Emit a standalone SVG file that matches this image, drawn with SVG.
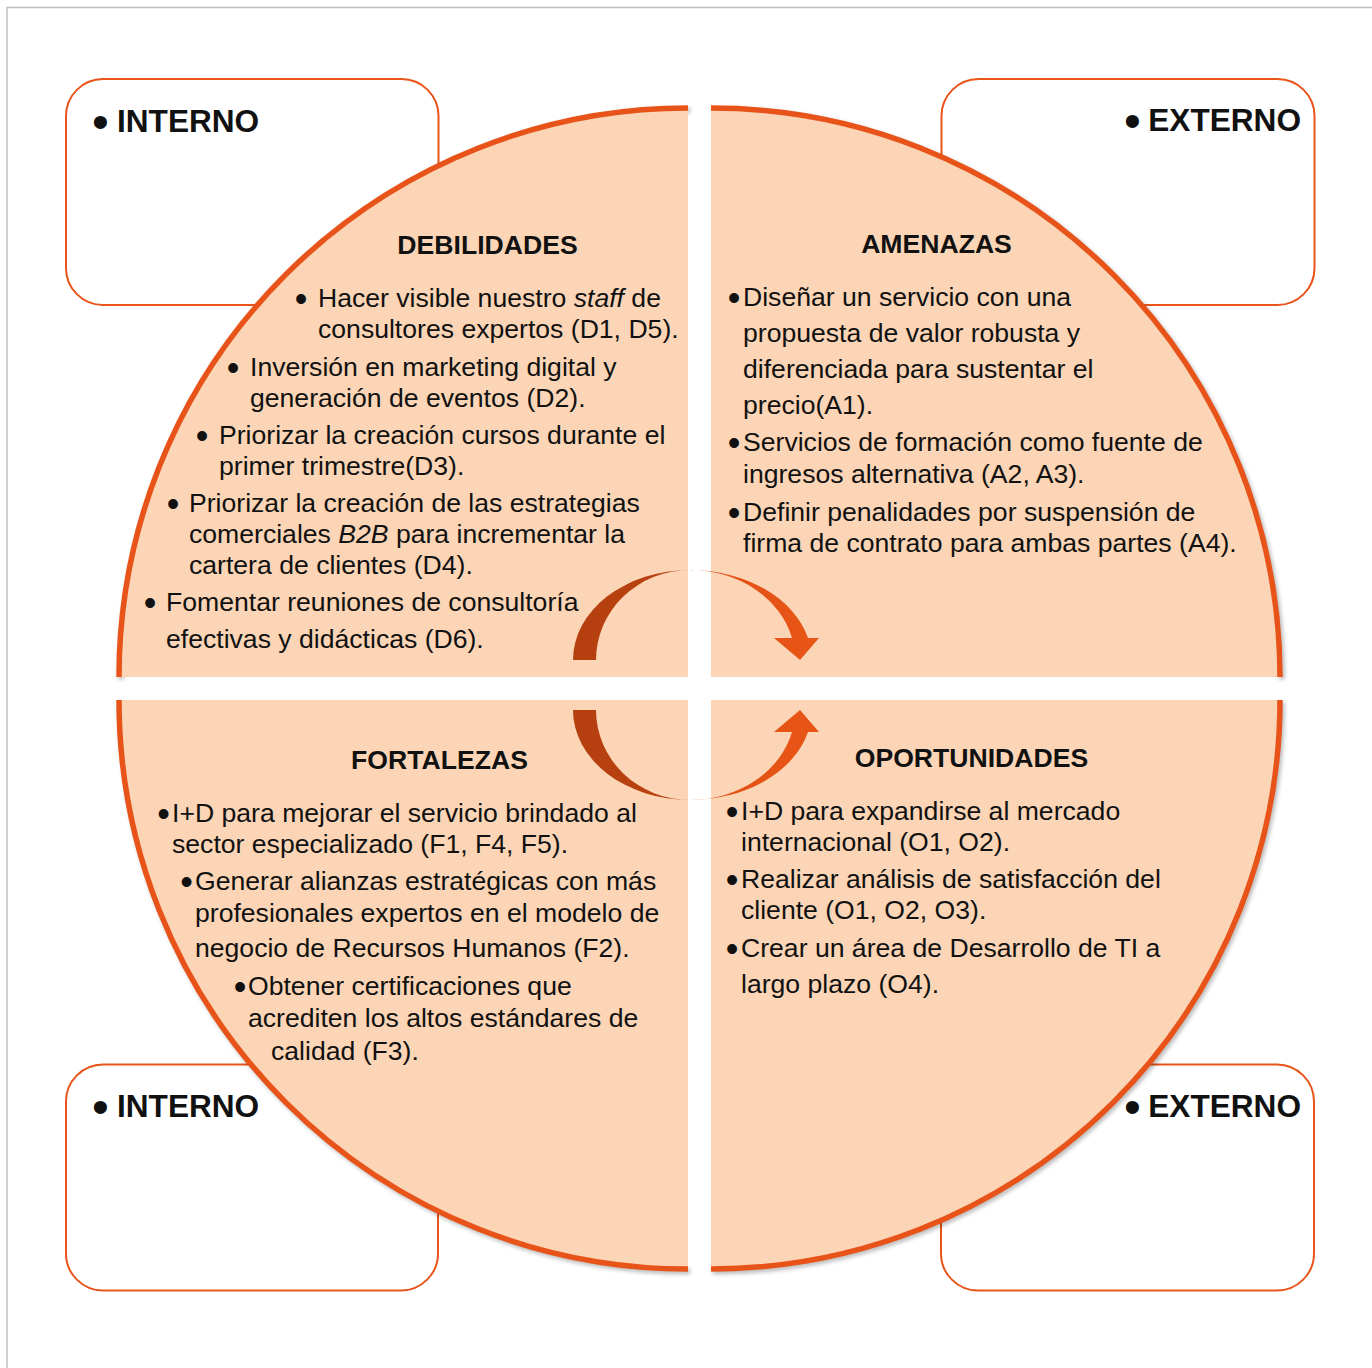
<svg xmlns="http://www.w3.org/2000/svg" width="1372" height="1368" viewBox="0 0 1372 1368">
<defs>
<style>
.box{fill:#fff;stroke:#E8541A;stroke-width:2}
.lbl{font-family:"Liberation Sans",Arial,sans-serif;font-weight:bold;font-size:31.6px;fill:#111}
.lb{font-family:"Liberation Sans",Arial,sans-serif;font-size:48px;fill:#111;text-anchor:middle}
.pie{fill:#FBD5B5;stroke:none}
.rim{fill:none;stroke:#E8531A;stroke-width:5.5}
.rimsh{fill:none;stroke:#000;stroke-opacity:0.3;stroke-width:5}
.hd{font-family:"Liberation Sans",Arial,sans-serif;font-weight:bold;font-size:26.6px;fill:#111;text-anchor:middle}
.tx{font-family:"Liberation Sans",Arial,sans-serif;font-size:26.6px;fill:#111}
.bl{font-family:"Liberation Sans",Arial,sans-serif;font-size:36px;fill:#111;text-anchor:middle}
.it{font-style:italic}
</style>
<filter id="sh" x="-10%" y="-10%" width="120%" height="120%">
<feGaussianBlur stdDeviation="2"/>
</filter>
<linearGradient id="ag" gradientUnits="userSpaceOnUse" x1="573" y1="0" x2="819" y2="0">
<stop offset="0" stop-color="#B53F0F"/>
<stop offset="0.44" stop-color="#BA4210"/>
<stop offset="0.52" stop-color="#E25013"/>
<stop offset="1" stop-color="#E85517"/>
</linearGradient>
</defs>
<rect width="1372" height="1368" fill="#fff"/>
<path d="M7,1368 V7.5 H1372" fill="none" stroke="#C0C0C0" stroke-width="1.5"/>

<g id="box-interno-top">
<rect class="box" x="66" y="79" width="372.5" height="226" rx="37"/>
<text class="lb" x="100.5" y="138">•</text>
<text class="lbl" x="117" y="132">INTERNO</text>
</g>
<g id="box-externo-top">
<rect class="box" x="941.5" y="79" width="373" height="226" rx="37"/>
<text class="lb" x="1132.5" y="137">•</text>
<text class="lbl" x="1301" y="131" text-anchor="end">EXTERNO</text>
</g>
<g id="box-interno-bottom">
<rect class="box" x="66" y="1064.5" width="372" height="226" rx="37"/>
<text class="lb" x="100.5" y="1123">•</text>
<text class="lbl" x="117" y="1117">INTERNO</text>
</g>
<g id="box-externo-bottom">
<rect class="box" x="941" y="1064.5" width="373" height="226" rx="37"/>
<text class="lb" x="1132.5" y="1123">•</text>
<text class="lbl" x="1301" y="1117" text-anchor="end">EXTERNO</text>
</g>

<g id="rim-shadow" filter="url(#sh)" transform="translate(2,2.5)">
<path class="rimsh" d="M119,677 A569,569 0 0 1 688,108"/>
<path class="rimsh" d="M711,108 A569,569 0 0 1 1280,677"/>
<path class="rimsh" d="M1280,700 A569,569 0 0 1 711,1269"/>
<path class="rimsh" d="M688,1269 A569,569 0 0 1 119,700"/>
</g>

<g id="debilidades">
<path class="pie" d="M688,677 H119 A569,569 0 0 1 688,108 Z"/>
<path class="rim" d="M119,677 A569,569 0 0 1 688,108"/>
<text class="hd" x="487.5" y="254">DEBILIDADES</text>
<text class="bl" x="301" y="311">•</text>
<text class="tx" x="318" y="307">Hacer visible nuestro <tspan class="it">staff</tspan> de</text>
<text class="tx" x="318" y="338">consultores expertos (D1, D5).</text>
<text class="bl" x="233" y="380">•</text>
<text class="tx" x="250" y="376">Inversión en marketing digital y</text>
<text class="tx" x="250" y="407">generación de eventos (D2).</text>
<text class="bl" x="202" y="448">•</text>
<text class="tx" x="219" y="444">Priorizar la creación cursos durante el</text>
<text class="tx" x="219" y="475">primer trimestre(D3).</text>
<text class="bl" x="173" y="516">•</text>
<text class="tx" x="189" y="512">Priorizar la creación de las estrategias</text>
<text class="tx" x="189" y="543">comerciales <tspan class="it">B2B</tspan> para incrementar la</text>
<text class="tx" x="189" y="574">cartera de clientes (D4).</text>
<text class="bl" x="150" y="615">•</text>
<text class="tx" x="166" y="611">Fomentar reuniones de consultoría</text>
<text class="tx" x="166" y="648">efectivas y didácticas (D6).</text>
</g>

<g id="amenazas">
<path class="pie" d="M711,677 V108 A569,569 0 0 1 1280,677 Z"/>
<path class="rim" d="M711,108 A569,569 0 0 1 1280,677"/>
<text class="hd" x="936.5" y="253">AMENAZAS</text>
<text class="bl" x="734" y="310">•</text>
<text class="tx" x="743" y="306">Diseñar un servicio con una</text>
<text class="tx" x="743" y="342">propuesta de valor robusta y</text>
<text class="tx" x="743" y="378">diferenciada para sustentar el</text>
<text class="tx" x="743" y="414">precio(A1).</text>
<text class="bl" x="734" y="455">•</text>
<text class="tx" x="743" y="451">Servicios de formación como fuente de</text>
<text class="tx" x="743" y="483">ingresos alternativa (A2, A3).</text>
<text class="bl" x="734" y="525">•</text>
<text class="tx" x="743" y="521">Definir penalidades por suspensión de</text>
<text class="tx" x="743" y="552">firma de contrato para ambas partes (A4).</text>
</g>

<g id="fortalezas">
<path class="pie" d="M688,700 V1269 A569,569 0 0 1 119,700 Z"/>
<path class="rim" d="M688,1269 A569,569 0 0 1 119,700"/>
<text class="hd" x="439.5" y="769">FORTALEZAS</text>
<text class="bl" x="163.5" y="826">•</text>
<text class="tx" x="172" y="822">I+D para mejorar el servicio brindado al</text>
<text class="tx" x="172" y="853">sector especializado (F1, F4, F5).</text>
<text class="bl" x="186.5" y="894">•</text>
<text class="tx" x="195" y="890">Generar alianzas estratégicas con más</text>
<text class="tx" x="195" y="922">profesionales expertos en el modelo de</text>
<text class="tx" x="195" y="957">negocio de Recursos Humanos (F2).</text>
<text class="bl" x="240" y="999">•</text>
<text class="tx" x="248" y="995">Obtener certificaciones que</text>
<text class="tx" x="248" y="1027">acrediten los altos estándares de</text>
<text class="tx" x="271" y="1060">calidad (F3).</text>
</g>

<g id="oportunidades">
<path class="pie" d="M711,700 H1280 A569,569 0 0 1 711,1269 Z"/>
<path class="rim" d="M1280,700 A569,569 0 0 1 711,1269"/>
<text class="hd" x="971.5" y="767">OPORTUNIDADES</text>
<text class="bl" x="732" y="824">•</text>
<text class="tx" x="741" y="820">I+D para expandirse al mercado</text>
<text class="tx" x="741" y="851">internacional (O1, O2).</text>
<text class="bl" x="732" y="892">•</text>
<text class="tx" x="741" y="888">Realizar análisis de satisfacción del</text>
<text class="tx" x="741" y="919">cliente (O1, O2, O3).</text>
<text class="bl" x="732" y="961">•</text>
<text class="tx" x="741" y="957">Crear un área de Desarrollo de TI a</text>
<text class="tx" x="741" y="993">largo plazo (O4).</text>
</g>

<g id="connectors">
<path id="arrow-top" fill="url(#ag)" d="M573,660 A117,90 0 0 1 690,570 A122,90 0 0 1 808,638 L819,638 L800,660 L774,638 L792,638 A105,90 0 0 0 690,570 A94,90 0 0 0 596,660 Z"/>
<path id="arrow-bottom" fill="url(#ag)" transform="matrix(1 0 0 -1 0 1370)" d="M573,660 A117,90 0 0 1 690,570 A122,90 0 0 1 808,638 L819,638 L800,660 L774,638 L792,638 A105,90 0 0 0 690,570 A94,90 0 0 0 596,660 Z"/>
</g>
</svg>
